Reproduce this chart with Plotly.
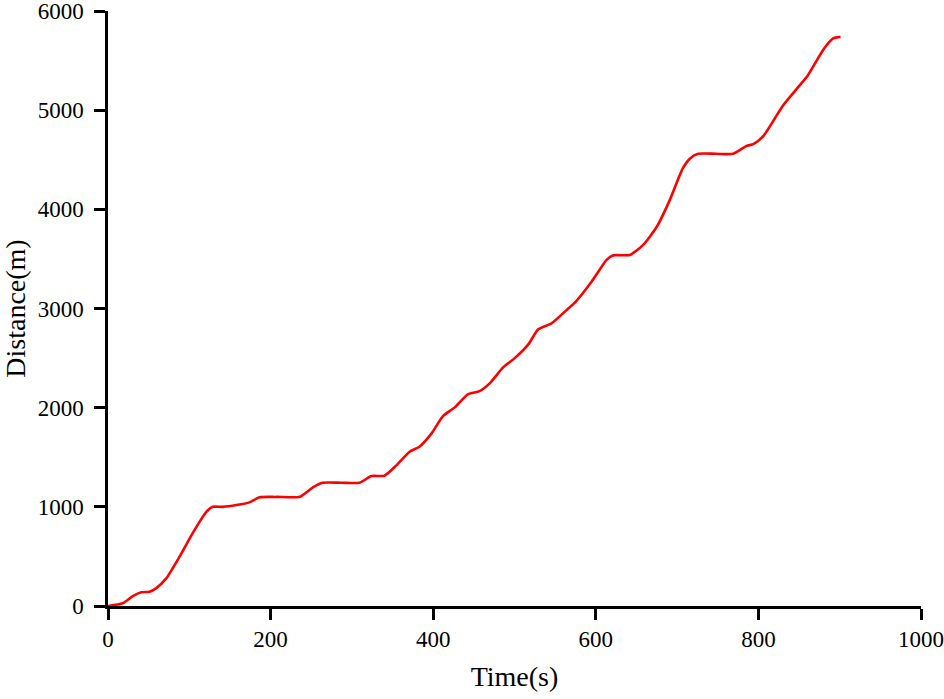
import plotly.graph_objects as go

time_s = [0, 18, 30.5, 41, 51, 59, 71.6, 88, 104, 121, 129, 141, 158, 174, 186.5, 207, 236, 252, 264,
          287, 309.5, 324, 340, 355, 371, 383, 398, 412, 426.5, 443, 457, 469.5, 486, 500, 517, 529,
          545.5, 564, 576, 594.7, 605, 613, 622, 642, 658, 675, 691, 707, 716, 726, 748, 769, 785.5,
          793.6, 806, 830.5, 851, 861, 880, 892, 901]
distance_m = [0, 27, 100, 138, 144, 178, 279, 497, 733, 950, 1000, 1000, 1018, 1045, 1096, 1100, 1102, 1197, 1243,
              1243, 1243, 1310, 1314, 1421, 1556, 1606, 1741, 1915, 2003, 2137, 2167, 2245, 2406, 2497, 2638, 2789,
              2850, 2984, 3075, 3269, 3394, 3488, 3536, 3540, 3639, 3824, 4093, 4412, 4513, 4560, 4560, 4560, 4640,
              4657, 4738, 5050, 5252, 5353, 5612, 5723, 5739]

x_ticks = [0, 200, 400, 600, 800, 1000]
y_ticks = [0, 1000, 2000, 3000, 4000, 5000, 6000]

font_family = "Liberation Serif, Times New Roman, serif"

fig = go.Figure()
fig.add_trace(go.Scatter(x=time_s, y=distance_m, mode="lines",
                         line=dict(color="#ff0000", width=2.6, shape="spline", smoothing=0.6),
                         showlegend=False, cliponaxis=False, hoverinfo="skip"))

axis_common = dict(showline=True, linecolor="black", linewidth=2.5, ticks="outside",
                   ticklen=11, tickwidth=2.5, tickcolor="black", showgrid=False, zeroline=False,
                   automargin=False, ticklabeloverflow="allow",
                   tickfont=dict(family=font_family, size=23, color="black"))

fig.update_layout(
    width=944, height=699,
    margin=dict(l=108, r=23, t=11, b=93),
    paper_bgcolor="white", plot_bgcolor="white",
    font=dict(family=font_family, size=23, color="black"),
    xaxis=dict(range=[0, 1000], tickvals=x_ticks, ticktext=[str(v) for v in x_ticks],
               title=dict(text="Time(s)", font=dict(family=font_family, size=28), standoff=16),
               ticklabelstandoff=0, **axis_common),
    yaxis=dict(range=[0, 6000], tickvals=y_ticks, ticktext=[str(v) for v in y_ticks],
               title=dict(text="Distance(m)", font=dict(family=font_family, size=28), standoff=16),
               ticklabelstandoff=6, **axis_common),
)

fig.write_html("out.html", config={"displayModeBar": False},
               post_script="document.body.style.margin='0';document.body.style.overflow='hidden';")
